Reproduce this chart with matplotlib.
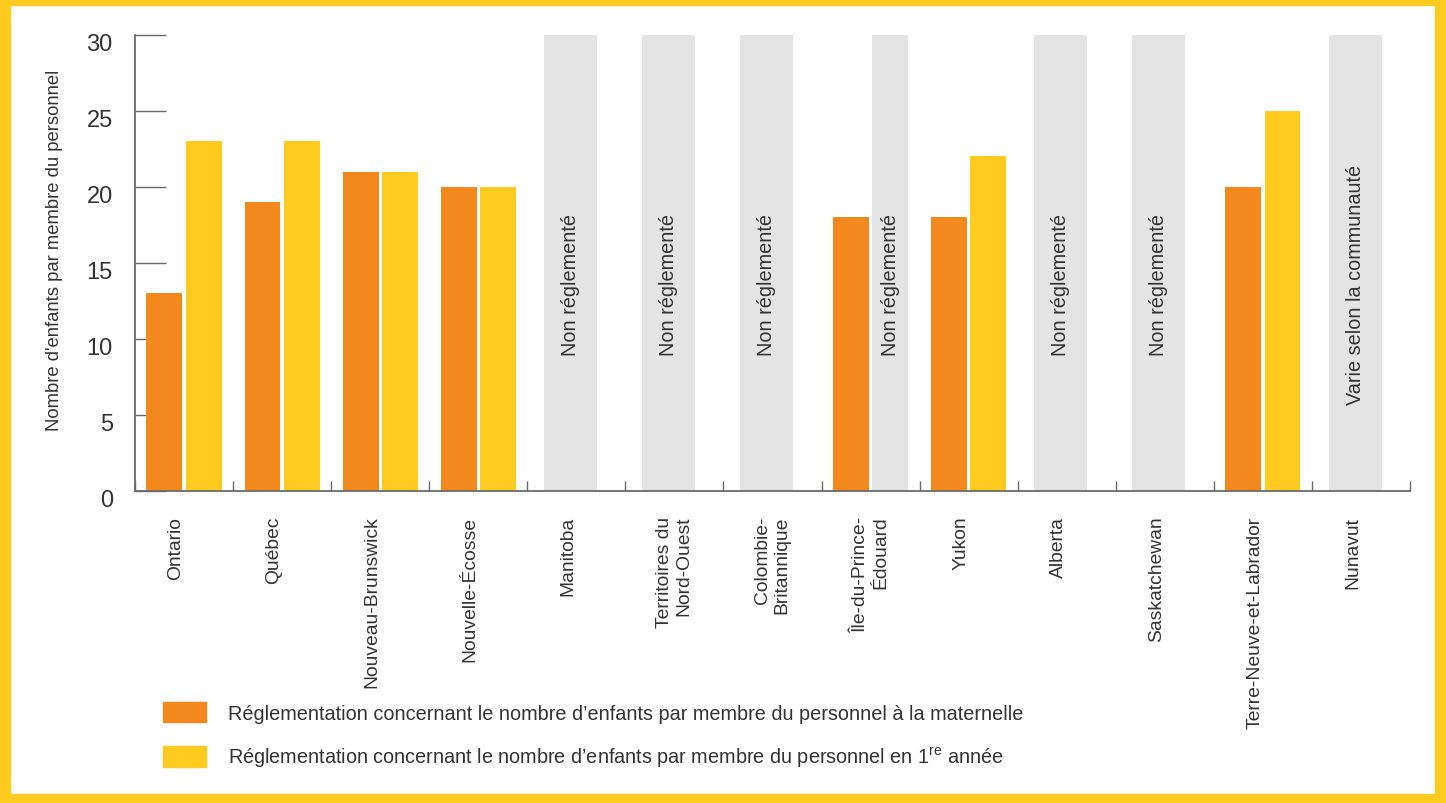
import numpy as np
import matplotlib
matplotlib.use("Agg")
import matplotlib.pyplot as plt
import matplotlib.patches as patches
from matplotlib.transforms import ScaledTranslation

plt.rcParams['font.family'] = ['Liberation Sans', 'DejaVu Sans']
plt.rcParams['mathtext.fontset'] = 'custom'
plt.rcParams['mathtext.rm'] = 'Liberation Sans'

# provinces / territories, left to right
categories = ['Ontario', 'Québec', 'Nouveau-Brunswick', 'Nouvelle-Écosse', 'Manitoba',
              'Territoires du\nNord-Ouest', 'Colombie-\nBritannique', 'Île-du-Prince-\nÉdouard',
              'Yukon', 'Alberta', 'Saskatchewan', 'Terre-Neuve-et-Labrador', 'Nunavut']
# children per staff member (None = no rule)
maternelle = [13, 19, 21, 20, None, None, None, 18, 18, None, None, 20, None]
premiere = [23, 23, 21, 20, None, None, None, None, 22, None, None, 25, None]
notes = ['', '', '', '', 'Non réglementé', 'Non réglementé', 'Non réglementé',
         'Non réglementé', '', 'Non réglementé', 'Non réglementé', '',
         'Varie selon la communauté']
yticks = [0, 5, 10, 15, 20, 25, 30]
legend_labels = ['Réglementation concernant le nombre d\u2019enfants par membre du personnel à la maternelle',
                 'Réglementation concernant le nombre d\u2019enfants par membre du personnel en 1$^{\\mathrm{re}}$ année']

orange = '#f3891d'
yellow = '#fecb1e'
grey = '#e4e4e4'
axis_color = '#6a6a6a'
text_color = '#333333'

W, H = 1446, 804
fig = plt.figure(figsize=(W / 100, H / 100), dpi=100)
fig.patch.set_facecolor('white')

ax = fig.add_axes([135 / W, 1 - 491.7 / H, (1410 - 135) / W, (491.7 - 35.7) / H])
ax.set_xlim(-0.5, len(categories) - 0.5)
ax.set_ylim(0, 30)

bw = 0.367
off = 0.2
x = np.arange(len(categories))
note_y = 13.6
note_fs = 14.3
for i in x:
    m, p, note = maternelle[i], premiere[i], notes[i]
    if m is not None:
        ax.bar(i - off, m, width=bw, color=orange, zorder=2)
    if p is not None:
        ax.bar(i + off, p, width=bw, color=yellow, zorder=2)
    if m is None and p is None:
        ax.bar(i - 0.06, 30, width=0.54, color=grey, zorder=1)
        ax.text(i - 0.06, note_y, note, rotation=90, ha='center', va='center',
                fontsize=note_fs, color=text_color, zorder=3)
    elif p is None:
        ax.bar(i + off, 30, width=bw, color=grey, zorder=1)
        ax.text(i + off, note_y, note, rotation=90, ha='center', va='center',
                fontsize=note_fs, color=text_color, zorder=3)

# axes styling
for s in ['top', 'right']:
    ax.spines[s].set_visible(False)
for s in ['left', 'bottom']:
    ax.spines[s].set_color(axis_color)
    ax.spines[s].set_linewidth(1.3)
    ax.spines[s].set_zorder(4)

ax.set_yticks(yticks)
ax.tick_params(axis='y', direction='in', length=22, width=1.0, color=axis_color,
               labelsize=17, labelcolor=text_color, pad=16)
for lab in ax.get_yticklabels():
    lab.set_transform(lab.get_transform() + ScaledTranslation(0, -0.07, fig.dpi_scale_trans))

ax.set_xticks(np.arange(-0.5, len(categories)))
ax.set_xticklabels([])
ax.set_xticks(x, minor=True)
ax.set_xticklabels(categories, minor=True, rotation=90, va='top', ha='center',
                   multialignment='right')
ax.tick_params(axis='x', which='major', direction='in', length=7, width=1.0, color=axis_color)
ax.tick_params(axis='x', which='minor', length=0, pad=18, labelsize=13.9,
               labelcolor=text_color)
# one-line names sit slightly left of the slot centre
for lab in ax.get_xticklabels(minor=True):
    if '\n' not in lab.get_text():
        lab.set_transform(lab.get_transform() + ScaledTranslation(-0.08, 0, fig.dpi_scale_trans))

fig.text(55 / W, 1 - 250 / H, 'Nombre d\'enfants par membre du personnel', rotation=90,
         ha='center', va='center', fontsize=13.3, color=text_color)

handles = [patches.Patch(color=orange), patches.Patch(color=yellow)]
fs_leg = 14.3
em = fs_leg * 100 / 72
fig.legend(handles, legend_labels, loc='upper left', bbox_to_anchor=(155 / W, 1 - 695 / H),
           frameon=False, fontsize=fs_leg, handlelength=43 / em, handleheight=24 / em,
           handletextpad=22 / em, labelspacing=22 / em, labelcolor=text_color,
           borderaxespad=0)

# yellow frame around the figure
frame = [(0, 0, 10, H), (0, 0, W, 9), (W - 11, 0, 11, H), (0, H - 6, W, 6)]
for fx, fy, fw, fh in frame:
    fig.patches.append(patches.Rectangle((fx / W, fy / H), fw / W, fh / H,
                                         transform=fig.transFigure, color=yellow, zorder=10))

fig.savefig('out.png', dpi=100)
